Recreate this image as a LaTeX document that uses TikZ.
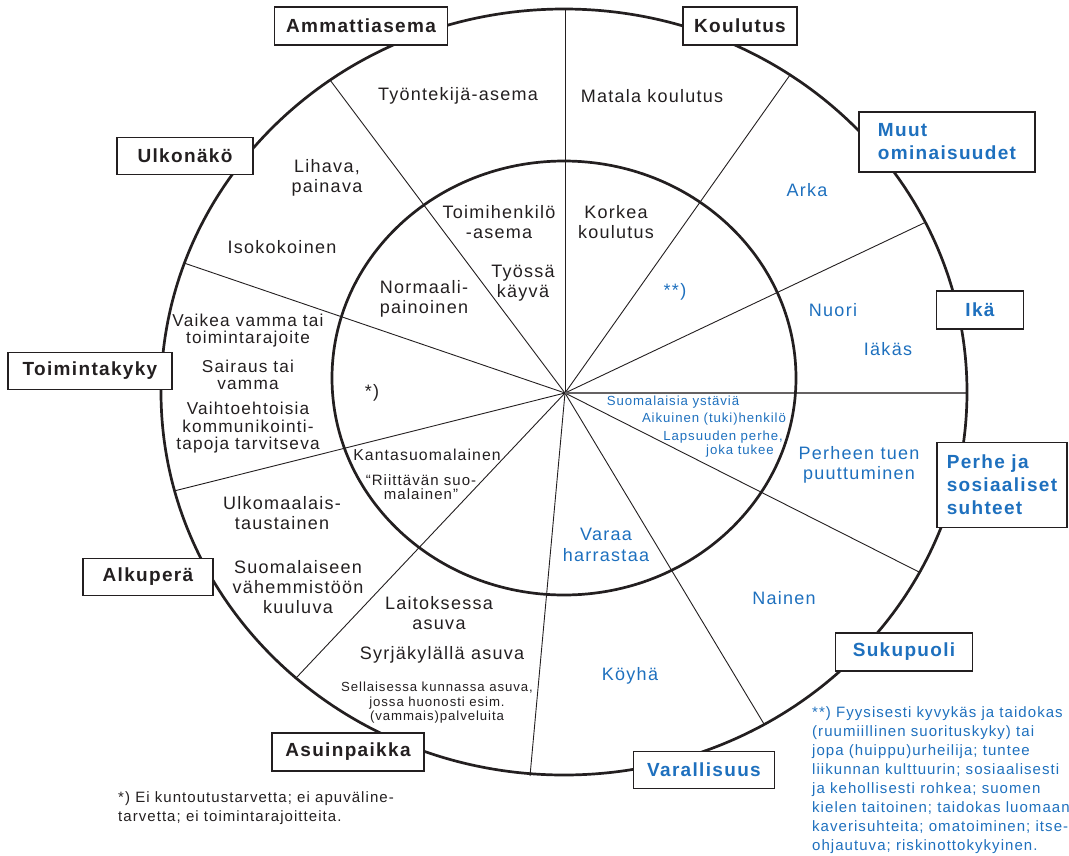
\documentclass[tikz,border=0pt]{standalone}
\usepackage{fontspec}
\setmainfont{Liberation Sans}[LetterSpace=7]
\definecolor{tumma}{RGB}{35,31,32}
\definecolor{sininen}{RGB}{30,112,190}
\tikzset{
  kaari/.style={draw=tumma, line width=2.7pt},
  sade/.style={draw=tumma, line width=0.9pt},
  laatikko/.style={draw=tumma, line width=1.1pt, fill=white, text=tumma,
    font=\fontsize{19}{23}\selectfont\bfseries, minimum height=38pt,
    inner sep=0pt, align=left},
  teksti/.style={text=tumma, font=\fontsize{18}{20}\selectfont, align=center, inner sep=0pt},
  sinteksti/.style={teksti, text=sininen},
  pieni/.style={teksti, font=\fontsize{13.2}{14.5}\selectfont},
  viite/.style={anchor=north west, align=left, inner sep=0pt, font=\fontsize{15}{19}\selectfont}
}
\begin{document}
\begin{tikzpicture}[x=1pt,y=-1pt]
\useasboundingbox (0,0) rectangle (1069,855);
%säteet
\coordinate (keski) at (565,393);
\foreach \n/\x/\y in {1/565/9, 2/330/80, 3/790/75, 4/924/223, 5/967/393, 6/919/572,
  7/764/724, 8/530/776, 9/297/677, 10/174/491, 11/184/263}
  \coordinate (s\n) at (\x,\y);
\foreach \n in {1,2,3,4,6,7,8,9,10,11}
  \draw[sade] (keski) -- (s\n);
\draw[sade, draw=tumma!70, line width=1.4pt] (keski) -- (s5);
%kehät
\draw[kaari] (564,392) ellipse [x radius=403pt, y radius=383pt];
\draw[kaari] (564,378) ellipse [x radius=232pt, y radius=217pt];
%laatikot
\node[laatikko, minimum width=173pt] (ammatti) at (361,26) {Ammattiasema};
\node[laatikko, minimum width=114pt] (koulutus) at (740,26) {Koulutus};
\node[laatikko, text=sininen, minimum width=176pt, minimum height=60pt] (muut) at (947,142) {Muut\\ominaisuudet};
\node[laatikko, text=sininen, minimum width=87pt] (ika) at (980,310) {Ikä};
\node[laatikko, text=sininen, minimum width=130pt, minimum height=85pt] (perhe) at (1002,485) {Perhe ja\\sosiaaliset\\suhteet};
\node[laatikko, text=sininen, minimum width=137pt] (sukupuoli) at (904,652) {Sukupuoli};
\node[laatikko, text=sininen, minimum width=141pt, minimum height=37pt] (varallisuus) at (704,770) {Varallisuus};
\node[laatikko, minimum width=152pt] (asuinpaikka) at (348,752) {Asuinpaikka};
\node[laatikko, minimum width=130pt, minimum height=37pt] (alkupera) at (148,577) {Alkuperä};
\node[laatikko, minimum width=164pt, minimum height=37pt] (toimintakyky) at (90,371) {Toimintakyky};
\node[laatikko, minimum width=136pt, minimum height=37pt] (ulkonako) at (185,156) {Ulkonäkö};
%ulkokehän tekstit
\node[teksti] (tyontekija) at (458,96) {Työntekijä-asema};
\node[teksti] (matala) at (652,96) {Matala koulutus};
\node[teksti] (lihava) at (327,178) {Lihava,\\painava};
\node[teksti] (isokokoinen) at (282,247) {Isokokoinen};
\node[teksti, font=\fontsize{17.2}{17}\selectfont] (vaikea) at (248,331) {Vaikea vamma tai\\toimintarajoite};
\node[teksti, font=\fontsize{17.2}{17}\selectfont] (sairaus) at (248,375) {Sairaus tai\\vamma};
\node[teksti, font=\fontsize{17.2}{17.5}\selectfont] (vaihto) at (248,428) {Vaihtoehtoisia\\kommunikointi-\\tapoja tarvitseva};
\node[teksti] (ulkomaalais) at (282,513) {Ulkomaalais-\\taustainen};
\node[teksti] (vahemmisto) at (298,587) {Suomalaiseen\\vähemmistöön\\kuuluva};
\node[teksti] (laitoksessa) at (439,613) {Laitoksessa\\asuva};
\node[teksti] (syrjakyla) at (442,655) {Syrjäkylällä asuva};
\node[pieni] (sellaisessa) at (437,703) {Sellaisessa kunnassa asuva,\\jossa huonosti esim.\\(vammais)palveluita};
\node[sinteksti] (koyha) at (630,676) {Köyhä};
\node[sinteksti] (nainen) at (784,598) {Nainen};
\node[sinteksti] (perheen) at (859,465) {Perheen tuen\\puuttuminen};
\node[sinteksti] (nuori) at (833,310) {Nuori};
\node[sinteksti] (iakas) at (888,349) {Iäkäs};
\node[sinteksti] (arka) at (807,190) {Arka};
%sisäkehän tekstit
\node[teksti] (toimihenkilo) at (499,222) {Toimihenkilö\\-asema};
\node[teksti] (korkea) at (616,222) {Korkea\\koulutus};
\node[teksti] (tyossa) at (523,283) {Työssä\\käyvä};
\node[teksti] (normaali) at (424,299) {Normaali-\\painoinen};
\node[teksti] (tahti) at (372,393) {*)};
\node[sinteksti] (tahdet) at (675,292) {**)};
\node[teksti, font=\fontsize{15.8}{17}\selectfont] (kanta) at (427,455) {Kantasuomalainen};
\node[teksti, font=\fontsize{15}{13.5}\selectfont] (riittava) at (421,487) {“Riittävän suo-\\malainen”};
\node[sinteksti, font=\fontsize{18}{21}\selectfont] (varaa) at (606,545) {Varaa\\harrastaa};
\node[pieni, text=sininen] (ystavia) at (673,402) {Suomalaisia ystäviä};
\node[pieni, text=sininen] (aikuinen) at (714,419) {Aikuinen (tuki)henkilö};
\node[pieni, text=sininen, align=right, anchor=east] (lapsuus) at (783,444) {Lapsuuden perhe,\\joka tukee\hspace*{9pt}};
%alaviitteet
\node[viite, text=tumma] (viite1) at (118,791) {*) Ei kuntoutustarvetta; ei apuväline-\\tarvetta; ei toimintarajoitteita.};
\node[viite, text=sininen] (viite2) at (812,706) {**) Fyysisesti kyvykäs ja taidokas\\(ruumiillinen suorituskyky) tai\\jopa (huippu)urheilija; tuntee\\liikunnan kulttuurin; sosiaalisesti\\ja kehollisesti rohkea; suomen\\kielen taitoinen; taidokas luomaan\\kaverisuhteita; omatoiminen; itse-\\ohjautuva; riskinottokykyinen.};
\end{tikzpicture}
\end{document}
